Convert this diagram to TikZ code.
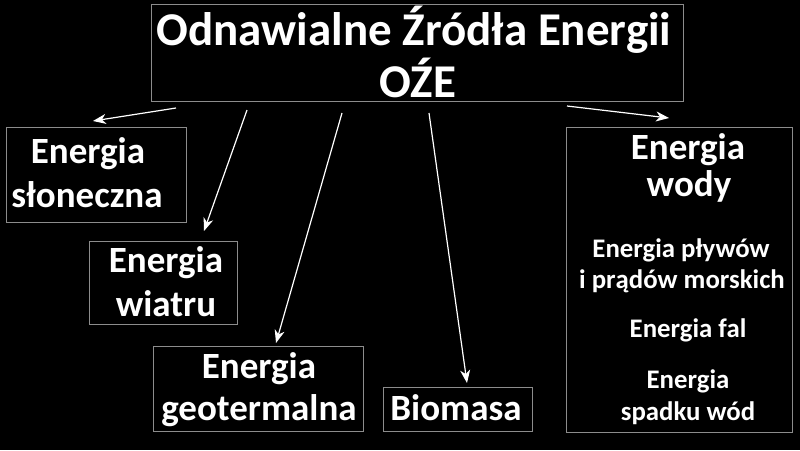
\documentclass[tikz,border=0pt]{standalone}
\usepackage{fontspec}
\setmainfont{Carlito}
\usetikzlibrary{arrows.meta}
\begin{document}
\begin{tikzpicture}[x=1pt,y=-1pt,
  box/.style={draw=gray!90,line width=0.8pt,inner sep=0pt,anchor=north west},
  big/.style={font=\bfseries\fontsize{37}{44}\selectfont,text=white,anchor=base,inner sep=0pt},
  huge/.style={font=\bfseries\fontsize{47}{52}\selectfont,text=white,anchor=base,inner sep=0pt},
  small/.style={font=\bfseries\fontsize{26.8}{30}\selectfont,text=white,anchor=base,inner sep=0pt},
  arr/.style={draw=white,line width=1.2pt,-{Stealth[length=13pt,width=10pt,inset=4pt]}}]
\fill[black] (0,0) rectangle (800,450);
\useasboundingbox (0,0) rectangle (800,450);
% boxes
\node[box,minimum width=532pt,minimum height=97pt] (title) at (151,4) {};
\node[box,minimum width=180pt,minimum height=95pt] (slon) at (6,127) {};
\node[box,minimum width=148pt,minimum height=83pt] (wiatr) at (89,241) {};
\node[box,minimum width=210pt,minimum height=85pt] (geo) at (153,346) {};
\node[box,minimum width=149pt,minimum height=44pt] (bio) at (383,387) {};
\node[box,minimum width=226pt,minimum height=305pt] (woda) at (566,127) {};
% texts
\node[huge] (t1) at (414,45) {Odnawialne Źródła Energii};
\node[huge] (t2) at (418,97) {OŹE};
\node[big] (s1) at (88,163) {Energia};
\node[big] (s2) at (87,207) {słoneczna};
\node[big] (w1) at (166,272) {Energia};
\node[big] (w2) at (166,316) {wiatru};
\node[big] (g1) at (259,378) {Energia};
\node[big] (g2) at (259,420) {geotermalna};
\node[big] (b1) at (456,420) {Biomasa};
\node[big] (h1) at (688,159) {Energia};
\node[big] (h2) at (689,196) {wody};
\node[small] (p1) at (681,257) {Energia pływów};
\node[small] (p2) at (682,288) {i prądów morskich};
\node[small] (f1) at (688,337) {Energia fal};
\node[small] (d1) at (688,388) {Energia};
\node[small] (d2) at (688,420) {spadku wód};
% arrow endpoints
\coordinate (a1s) at (176,108); \coordinate (a1e) at (93,121);
\coordinate (a2s) at (247,110); \coordinate (a2e) at (204,231);
\coordinate (a3s) at (342,113); \coordinate (a3e) at (276,343);
\coordinate (a4s) at (429,113); \coordinate (a4e) at (467,383);
\coordinate (a5s) at (567,106); \coordinate (a5e) at (669,118);
\draw[arr] (a1s) -- (a1e);
\draw[arr] (a2s) -- (a2e);
\draw[arr] (a3s) -- (a3e);
\draw[arr] (a4s) -- (a4e);
\draw[arr] (a5s) -- (a5e);
\end{tikzpicture}
\end{document}
